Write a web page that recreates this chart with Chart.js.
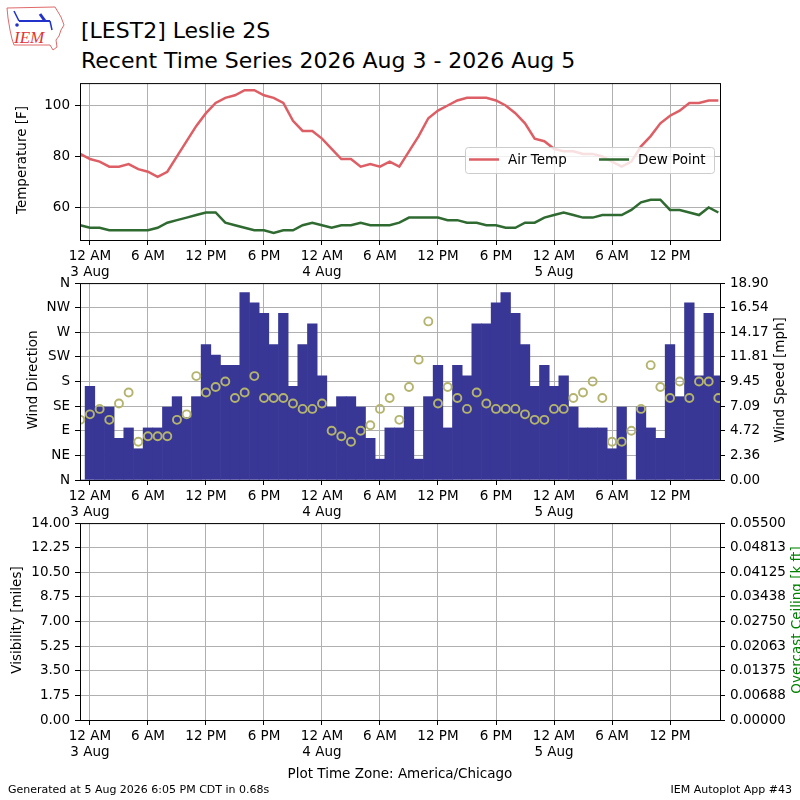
<!DOCTYPE html>
<html>
<head>
<meta charset="utf-8">
<script src="https://cdn.jsdelivr.net/npm/chart.js@4.4.1/dist/chart.umd.min.js"></script>
<style>
  body { margin: 0; background: #fff; }
  #wrap { position: relative; width: 800px; height: 800px; overflow: hidden; background: #fff; font-family: "DejaVu Sans", sans-serif; color: #000; }
  canvas { position: absolute; left: 0; }
  .txt { position: absolute; white-space: nowrap; line-height: 1; }
</style>
</head>
<body>
<div id="wrap">
  <svg width="70" height="56" style="position:absolute;left:3px;top:3px">
    <path d="M4 5 L52 4 L55 9 L58 14 L61 22 L58 27 L56 33 L53 37 L54 44 L50 47 L47 42 L11 42 L9 36 L7 27 L5 15 Z" fill="none" stroke="#e06a6a" stroke-width="1"/>
    <line x1="16" y1="18" x2="47" y2="18" stroke="#2233cc" stroke-width="2"/>
    <line x1="16" y1="18" x2="11" y2="8" stroke="#2233cc" stroke-width="1.5"/>
    <line x1="42" y1="18" x2="37" y2="11" stroke="#2233cc" stroke-width="3"/>
    <line x1="47" y1="18" x2="49" y2="27" stroke="#2233cc" stroke-width="1.5"/>
    <circle cx="14" cy="22" r="1.8" fill="#2233cc"/>
    <text x="11" y="40" font-family="Liberation Serif" font-style="italic" font-size="17" fill="#e03535">IEM</text>
  </svg>
  <div class="txt" style="left:81px;top:20px;font-size:22px">[LEST2] Leslie 2S</div>
  <div class="txt" style="left:81px;top:50px;font-size:22px">Recent Time Series 2026 Aug 3 - 2026 Aug 5</div>

  <canvas id="c1" width="800" height="215" style="top:70px"></canvas>
  <canvas id="c2" width="800" height="255" style="top:270px"></canvas>
  <canvas id="c3" width="800" height="255" style="top:510px"></canvas>

  <div class="txt" style="left:0;width:800px;text-align:center;top:767px;font-size:13.5px">Plot Time Zone: America/Chicago</div>
  <div class="txt" style="left:8px;top:784px;font-size:11px">Generated at 5 Aug 2026 6:05 PM CDT in 0.68s</div>
  <div class="txt" style="right:8px;top:784px;font-size:11px">IEM Autoplot App #43</div>
</div>
<script>
// hours since 12 AM 3 Aug (America/Chicago)
const hours = [-1, 0, 1, 2, 3, 4, 5, 6, 7, 8, 9, 10, 11, 12, 13, 14, 15, 16, 17, 18, 19, 20,
  21, 22, 23, 24, 25, 26, 27, 28, 29, 30, 31, 32, 33, 34, 35, 36, 37, 38, 39, 40, 41, 42,
  43, 44, 45, 46, 47, 48, 49, 50, 51, 52, 53, 54, 55, 56, 57, 58, 59, 60, 61, 62, 63, 64, 65];

const airTemp = [81, 79, 78, 76, 76, 77, 75, 74, 72, 74, 80, 86, 92, 97, 101, 103, 104, 106, 106, 104,
  103, 101, 94, 90, 90, 87, 83, 79, 79, 76, 77, 76, 78, 76, 82, 88, 95, 98, 100, 102, 103, 103,
  103, 102, 100, 97, 93, 87, 86, 83, 82, 82, 81, 81, 80, 78, 76, 78, 84, 88, 93, 96, 98, 101, 101, 102, 102];

const dewPoint = [53, 52, 52, 51, 51, 51, 51, 51, 52, 54, 55, 56, 57, 58, 58, 54, 53, 52, 51, 51,
  50, 51, 51, 53, 54, 53, 52, 53, 53, 54, 53, 53, 53, 54, 56, 56, 56, 56, 55, 55, 54, 54,
  53, 53, 52, 52, 54, 54, 56, 57, 58, 57, 56, 56, 57, 57, 57, 59, 62, 63, 63, 59, 59, 58, 57, 60, 58];

const windSpeed = [0, 9, 7, 7, 4, 5, 3, 5, 5, 7, 8, 6, 8, 13, 12, 11, 11, 18, 17, 16,
  13, 16, 9, 13, 15, 10, 7, 8, 8, 7, 4, 2, 5, 5, 7, 2, 8, 11, 5, 11, 10, 15,
  15, 17, 18, 16, 13, 9, 11, 9, 10, 7, 5, 5, 5, 3, 7, 0, 7, 5, 4, 13, 8, 17, 10, 16, 10];

const windDir = [110, 120, 130, 110, 140, 160, 70, 80, 80, 80, 110, 120, 190, 160, 170, 180, 150, 160, 190, 150,
  150, 150, 140, 130, 130, 140, 90, 80, 70, 90, 100, 130, 150, 110, 170, 220, 290, 140, 170, 150, 130, 160,
  140, 130, 130, 130, 120, 110, 110, 130, 130, 150, 160, 180, 150, 70, 70, 90, 130, 210, 170, 150, 180, 150, 180, 180, 150];

const visibility = [];
const ceiling = [];

const timeTicks = [0, 6, 12, 18, 24, 30, 36, 42, 48, 54, 60];
const timeTickLabels = [['12 AM', '3 Aug'], '6 AM', '12 PM', '6 PM', ['12 AM', '4 Aug'], '6 AM',
  '12 PM', '6 PM', ['12 AM', '5 Aug'], '6 AM', '12 PM'];

const tempTicks = [60, 80, 100];
const tempTickLabels = ['60', '80', '100'];
const dirTicks = [0, 45, 90, 135, 180, 225, 270, 315, 360];
const dirTickLabels = ['N', 'NE', 'E', 'SE', 'S', 'SW', 'W', 'NW', 'N'];
const speedTicks = [0, 2.3625, 4.725, 7.0875, 9.45, 11.8125, 14.175, 16.5375, 18.9];
const speedTickLabels = ['0.00', '2.36', '4.72', '7.09', '9.45', '11.81', '14.17', '16.54', '18.90'];
const visTicks = [0, 1.75, 3.5, 5.25, 7, 8.75, 10.5, 12.25, 14];
const visTickLabels = ['0.00', '1.75', '3.50', '5.25', '7.00', '8.75', '10.50', '12.25', '14.00'];
const ceilTicks = [0, 0.006875, 0.01375, 0.020625, 0.0275, 0.034375, 0.04125, 0.048125, 0.055];
const ceilTickLabels = ['0.00000', '0.00688', '0.01375', '0.02063', '0.02750', '0.03438', '0.04125', '0.04813', '0.05500'];

const xMin = -1.03, xMax = 65.17;

Chart.defaults.font.family = "'DejaVu Sans'";
Chart.defaults.font.size = 13.5;
Chart.defaults.color = '#000';

const GRID = '#b0b0b0';

function pts(ys) {
  return hours.map((h, i) => ({ x: h, y: ys[i] }));
}

function timeAxis() {
  return {
    type: 'linear', min: xMin, max: xMax, offset: false,
    grid: { color: GRID, lineWidth: 1, tickColor: '#000', tickLength: 5, offset: false },
    border: { display: false },
    ticks: { autoSkip: false, maxRotation: 0, padding: 3, callback: (v, i) => timeTickLabels[i] },
    afterBuildTicks: s => { s.ticks = timeTicks.map(v => ({ value: v })); },
    afterFit: s => { s.height = 45; }
  };
}

function valueAxis(pos, min, max, ticks, labels, gridOn) {
  return {
    type: 'linear', position: pos, min: min, max: max,
    grid: { drawOnChartArea: gridOn, color: GRID, lineWidth: 1, tickColor: '#000', tickLength: 5 },
    border: { display: false },
    ticks: { autoSkip: false, padding: 5, callback: (v, i) => labels[i] },
    afterBuildTicks: s => { s.ticks = ticks.map(v => ({ value: v })); },
    afterFit: s => { s.width = 80; }
  };
}

function vText(ctx, text, x, y, color) {
  ctx.save();
  ctx.translate(x, y);
  ctx.rotate(-Math.PI / 2);
  ctx.font = "13.5px 'DejaVu Sans'";
  ctx.fillStyle = color || '#000';
  ctx.textAlign = 'center';
  ctx.textBaseline = 'middle';
  ctx.fillText(text, 0, 0);
  ctx.restore();
}

function drawLegend(chart) {
  const ctx = chart.ctx;
  const x = 465.5, y = 77.5, w = 249, h = 26, r = 3;
  ctx.save();
  ctx.beginPath();
  ctx.moveTo(x + r, y);
  ctx.lineTo(x + w - r, y);
  ctx.arcTo(x + w, y, x + w, y + r, r);
  ctx.lineTo(x + w, y + h - r);
  ctx.arcTo(x + w, y + h, x + w - r, y + h, r);
  ctx.lineTo(x + r, y + h);
  ctx.arcTo(x, y + h, x, y + h - r, r);
  ctx.lineTo(x, y + r);
  ctx.arcTo(x, y, x + r, y, r);
  ctx.closePath();
  ctx.fillStyle = 'rgba(255,255,255,0.8)';
  ctx.fill();
  ctx.strokeStyle = '#cccccc';
  ctx.lineWidth = 1;
  ctx.stroke();
  ctx.font = "13.5px 'DejaVu Sans'";
  ctx.textBaseline = 'middle';
  ctx.textAlign = 'left';
  const ds = chart.data.datasets;
  const slots = [469, 599];
  ds.forEach((d, i) => {
    ctx.strokeStyle = d.borderColor;
    ctx.lineWidth = 2.5;
    ctx.beginPath();
    ctx.moveTo(slots[i], 89.5);
    ctx.lineTo(slots[i] + 30, 89.5);
    ctx.stroke();
    ctx.fillStyle = '#000';
    ctx.fillText(d.label, slots[i] + 39, 90);
  });
  ctx.restore();
}

function panelPlugin(titles, withLegend) {
  return {
    id: 'panel',
    afterDatasetsDraw(chart) {
      if (withLegend) drawLegend(chart);
      const a = chart.chartArea, ctx = chart.ctx;
      ctx.save();
      ctx.strokeStyle = '#000';
      ctx.lineWidth = 1;
      ctx.strokeRect(a.left + 0.5, a.top + 0.5, a.right - a.left, a.bottom - a.top);
      ctx.restore();
    },
    afterDraw(chart) {
      titles.forEach(t => vText(chart.ctx, t.text, t.x, t.y, t.color));
    }
  };
}

const common = {
  responsive: false,
  animation: false,
  events: [],
  plugins: { legend: { display: false }, tooltip: { enabled: false } }
};

// temperature panel
new Chart(document.getElementById('c1'), {
  type: 'line',
  data: {
    datasets: [
      { label: 'Air Temp', data: pts(airTemp), borderColor: '#dd5f65', borderWidth: 2.5, pointRadius: 0, tension: 0, clip: 0 },
      { label: 'Dew Point', data: pts(dewPoint), borderColor: '#2f6a31', borderWidth: 2.5, pointRadius: 0, tension: 0, clip: 0 }
    ]
  },
  options: Object.assign({}, common, {
    layout: { padding: { top: 10, right: 80, left: 0, bottom: 0 } },
    scales: {
      x: timeAxis(),
      y: valueAxis('left', 47.2, 108.8, tempTicks, tempTickLabels, true)
    }
  }),
  plugins: [panelPlugin([{ text: 'Temperature [F]', x: 22, y: 90 }], true)]
});

// wind panel
new Chart(document.getElementById('c2'), {
  type: 'scatter',
  data: {
    datasets: [
      { type: 'scatter', label: 'Wind Direction', data: pts(windDir), yAxisID: 'yDir', order: 0, clip: 0,
        pointRadius: 4, pointBorderWidth: 1.9, pointBorderColor: '#b4b46e', pointBackgroundColor: 'rgba(0,0,0,0)' },
      { type: 'bar', label: 'Wind Speed', data: pts(windSpeed), yAxisID: 'ySpd', order: 1, clip: 0,
        backgroundColor: '#383796', borderWidth: 0, barPercentage: 1, categoryPercentage: 1 }
    ]
  },
  options: Object.assign({}, common, {
    layout: { padding: { top: 10, right: 0, left: 0, bottom: 0 } },
    scales: {
      x: timeAxis(),
      yDir: valueAxis('left', 0, 360, dirTicks, dirTickLabels, true),
      ySpd: valueAxis('right', 0, 18.9, speedTicks, speedTickLabels, false)
    }
  }),
  plugins: [panelPlugin([
    { text: 'Wind Direction', x: 33, y: 110 },
    { text: 'Wind Speed [mph]', x: 780, y: 110 }
  ], false)]
});

// visibility / ceiling panel
new Chart(document.getElementById('c3'), {
  type: 'line',
  data: {
    datasets: [
      { label: 'Visibility', data: pts(visibility), yAxisID: 'yVis', borderColor: '#000', pointRadius: 0 },
      { label: 'Overcast Ceiling', data: pts(ceiling), yAxisID: 'yCeil', borderColor: 'green', pointRadius: 0 }
    ]
  },
  options: Object.assign({}, common, {
    layout: { padding: { top: 10, right: 0, left: 0, bottom: 0 } },
    scales: {
      x: timeAxis(),
      yVis: valueAxis('left', 0, 14, visTicks, visTickLabels, true),
      yCeil: valueAxis('right', 0, 0.055, ceilTicks, ceilTickLabels, false)
    }
  }),
  plugins: [panelPlugin([
    { text: 'Visibility [miles]', x: 17, y: 110 },
    { text: 'Overcast Ceiling [k ft]', x: 797, y: 110, color: 'green' }
  ], false)]
});
</script>
</body>
</html>
